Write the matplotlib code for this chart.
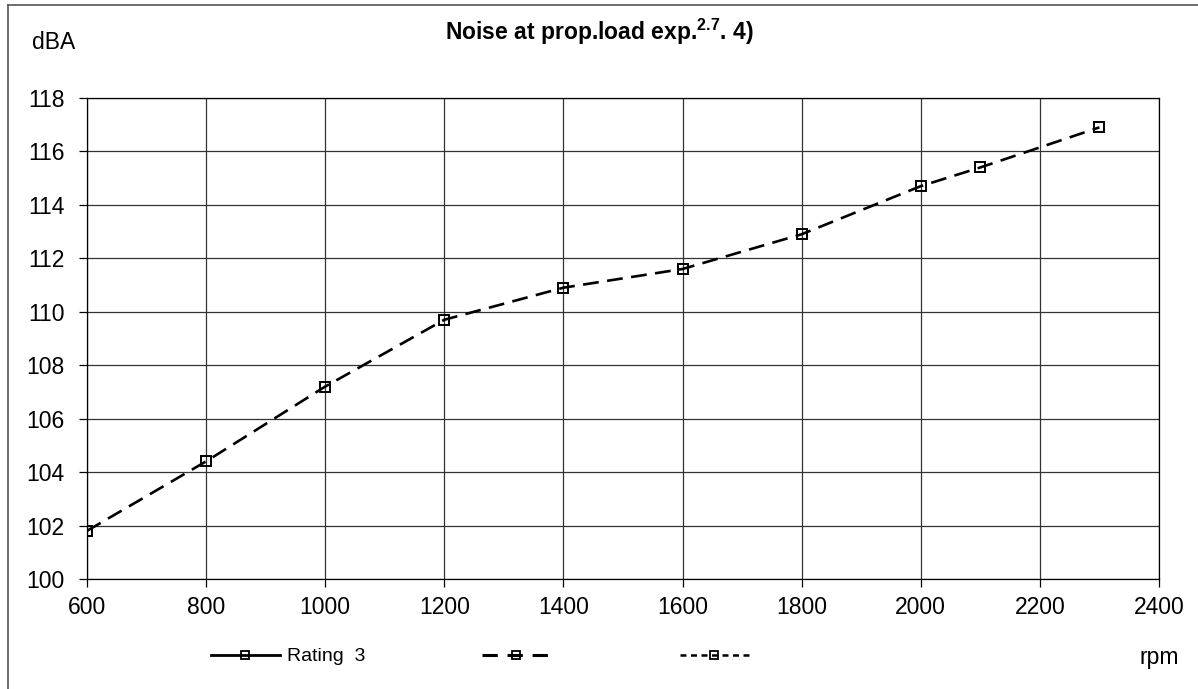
import matplotlib.pyplot as plt
from matplotlib.lines import Line2D

plt.rcParams["font.family"] = ["Liberation Sans", "DejaVu Sans"]
plt.rcParams["mathtext.fontset"] = "custom"
plt.rcParams["mathtext.rm"] = "Liberation Sans"
plt.rcParams["mathtext.bf"] = "Liberation Sans:bold"

rpm = [600, 800, 1000, 1200, 1400, 1600, 1800, 2000, 2100, 2300]
noise = [101.8, 104.4, 107.2, 109.7, 110.9, 111.6, 112.9, 114.7, 115.4, 116.9]
x_ticks = list(range(600, 2401, 200))
y_ticks = list(range(100, 119, 2))

fig = plt.figure(figsize=(11.98, 6.89), dpi=100)
ax = fig.add_axes([0.0726, 0.1597, 0.8948, 0.6981])

ax.plot(rpm, noise, color="black", lw=1.9, dashes=(6, 3.2),
        marker="s", markersize=7, markerfacecolor="none",
        markeredgecolor="black", markeredgewidth=1.4, zorder=3)

ax.set_xlim(600, 2400)
ax.set_ylim(100, 118)
ax.set_xticks(x_ticks)
ax.set_yticks(y_ticks)
ax.grid(True, color="#333333", lw=0.9)
for s in ax.spines.values():
    s.set_color("black")
    s.set_linewidth(0.9)
ax.tick_params(labelsize=16.5, length=6, width=0.9, direction="out")
ax.tick_params(axis="y", pad=10)
ax.tick_params(axis="x", pad=6)

# figure text
fig.text(0.5, 0.953, r"Noise at prop.load exp.$^{\mathbf{2.7}}$. 4)",
         ha="center", va="center", fontsize=16.5, fontweight="bold")
fig.text(0.027, 0.9376, "dBA", ha="left", va="center", fontsize=16.5)
fig.text(0.951, 0.045, "rpm", ha="left", va="center", fontsize=16.5)

# frame lines around chart area
fig.add_artist(Line2D([0.0067, 0.0067], [0.0, 0.993], color="#555555", lw=1.2,
                      transform=fig.transFigure))
fig.add_artist(Line2D([0.0067, 1.0], [0.993, 0.993], color="#555555", lw=1.2,
                      transform=fig.transFigure))

# legend
handles = [
    Line2D([], [], color="black", lw=2, marker="s", markersize=6,
           markerfacecolor="none", markeredgewidth=1.3),
    Line2D([], [], color="black", lw=2.2, dashes=(5, 3.2), marker="s",
           markersize=6, markerfacecolor="none", markeredgewidth=1.3),
    Line2D([], [], color="black", lw=1.8, dashes=(2.4, 1.8), marker="s",
           markersize=6, markerfacecolor="none", markeredgewidth=1.3),
]
labels = ["Rating  3", " ", " "]
fig.legend(handles, labels, loc="center left", bbox_to_anchor=(0.176, 0.047),
           ncol=3, frameon=False, fontsize=14, handlelength=3.55,
           columnspacing=6.0, handletextpad=0.35, borderpad=0,
           borderaxespad=0)

fig.savefig("out.png", dpi=100)
